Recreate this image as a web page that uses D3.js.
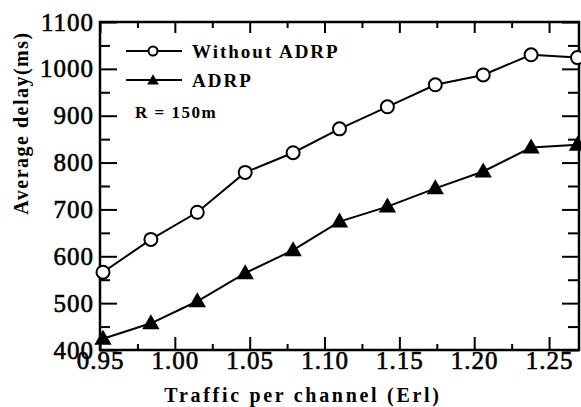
<!DOCTYPE html>
<html>
<head>
<meta charset="utf-8">
<script src="https://cdn.jsdelivr.net/npm/d3@7"></script>
<style>
  body { margin: 0; background: #fff; }
  svg { display: block; }
  text { font-family: 'Liberation Serif', serif; }
</style>
</head>
<body>
<svg></svg>
<script>
// values
var traffic = [0.952, 0.984, 1.015, 1.047, 1.079, 1.110, 1.142, 1.174, 1.206, 1.238, 1.269];
var withoutAdrp = [566, 636, 694, 779, 821, 872, 919, 966, 987, 1030, 1024];
var adrp = [424, 457, 504, 564, 613, 674, 706, 745, 781, 832, 838];
var xMajor = [0.95, 1.00, 1.05, 1.10, 1.15, 1.20, 1.25];
var xMinor = [0.975, 1.025, 1.075, 1.125, 1.175, 1.225];
var yMajor = [400, 500, 600, 700, 800, 900, 1000, 1100];
var yMinor = [450, 550, 650, 750, 850, 950, 1050];
var seriesNames = ["Without ADRP", "ADRP"];

var FONT = "'Liberation Serif', serif";
var W = 581, H = 407;
var margin = {top: 22, right: 2, bottom: 57, left: 100};
var width = W - margin.left - margin.right,
    height = H - margin.top - margin.bottom;

var svg = d3.select("svg").attr("width", W).attr("height", H);
var g = svg.append("g").attr("transform", "translate(" + margin.left + "," + margin.top + ")");

var x = d3.scaleLinear().domain([0.95, 1.27]).range([0, width]);
var y = d3.scaleLinear().domain([400, 1100]).range([height, 0]);

function styleAxis(sel) {
  sel.attr("font-family", FONT).attr("font-size", null);
  sel.select(".domain").remove();
  sel.selectAll(".tick line").attr("stroke", "#000").attr("stroke-width", 2);
  sel.selectAll(".tick text")
    .attr("fill", "#000")
    .attr("stroke", "#000").attr("stroke-width", 0.6)
    .style("font-family", FONT)
    .style("font-size", "25px")
    .style("letter-spacing", "1px");
}

// bottom
g.append("g").attr("transform", "translate(0," + height + ")")
  .call(d3.axisBottom(x).tickValues(xMajor).tickSizeInner(-13).tickSizeOuter(0)
    .tickPadding(1).tickFormat(d3.format(".2f")))
  .call(styleAxis);
g.append("g").attr("transform", "translate(0," + height + ")")
  .call(d3.axisBottom(x).tickValues(xMinor).tickSizeInner(-6).tickSizeOuter(0).tickFormat(""))
  .call(styleAxis);
// top
g.append("g")
  .call(d3.axisTop(x).tickValues(xMajor).tickSizeInner(-11).tickSizeOuter(0).tickFormat(""))
  .call(styleAxis);
g.append("g")
  .call(d3.axisTop(x).tickValues(xMinor).tickSizeInner(-6).tickSizeOuter(0).tickFormat(""))
  .call(styleAxis);
// left
g.append("g")
  .call(d3.axisLeft(y).tickValues(yMajor).tickSizeInner(-17).tickSizeOuter(0).tickPadding(6)
    .tickFormat(d3.format("d")))
  .call(styleAxis);
g.append("g")
  .call(d3.axisLeft(y).tickValues(yMinor).tickSizeInner(-10).tickSizeOuter(0).tickFormat(""))
  .call(styleAxis);
// right
g.append("g").attr("transform", "translate(" + width + ",0)")
  .call(d3.axisRight(y).tickValues(yMajor).tickSizeInner(-17).tickSizeOuter(0).tickFormat(""))
  .call(styleAxis);
g.append("g").attr("transform", "translate(" + width + ",0)")
  .call(d3.axisRight(y).tickValues(yMinor).tickSizeInner(-11).tickSizeOuter(0).tickFormat(""))
  .call(styleAxis);

// frame
g.append("rect")
  .attr("x", x(0.95)).attr("y", y(1100))
  .attr("width", x(1.27) - x(0.95)).attr("height", y(400) - y(1100))
  .attr("fill", "none").attr("stroke", "#000").attr("stroke-width", 2.5);

var line = d3.line().x(function(d) { return x(d[0]); }).y(function(d) { return y(d[1]); });
var tri = d3.symbol().type(d3.symbolTriangle);

var s1 = d3.zip(traffic, withoutAdrp);
var s2 = d3.zip(traffic, adrp);

g.append("path").datum(s1).attr("d", line)
  .attr("fill", "none").attr("stroke", "#000").attr("stroke-width", 2);
g.append("path").datum(s2).attr("d", line)
  .attr("fill", "none").attr("stroke", "#000").attr("stroke-width", 2);

g.selectAll(".c").data(s1).enter().append("circle")
  .attr("cx", function(d) { return x(d[0]); })
  .attr("cy", function(d) { return y(d[1]); })
  .attr("r", 6.5)
  .attr("fill", "#fff").attr("stroke", "#000").attr("stroke-width", 2);

g.selectAll(".t").data(s2).enter().append("path")
  .attr("d", tri.size(130))
  .attr("transform", function(d) { return "translate(" + x(d[0]) + "," + (y(d[1]) + 1) + ")"; })
  .attr("fill", "#000");

// legend
var leg = g.append("g");
var ly = [29, 58];
seriesNames.forEach(function(name, i) {
  leg.append("line").attr("x1", 26).attr("x2", 82).attr("y1", ly[i]).attr("y2", ly[i])
    .attr("stroke", "#000").attr("stroke-width", 2);
  if (i === 0) {
    leg.append("circle").attr("cx", 53).attr("cy", ly[i]).attr("r", 4.5)
      .attr("fill", "#fff").attr("stroke", "#000").attr("stroke-width", 2);
  } else {
    leg.append("path").attr("d", d3.symbol().type(d3.symbolTriangle).size(60)())
      .attr("transform", "translate(53," + (ly[i] + 1) + ")").attr("fill", "#000");
  }
  leg.append("text").attr("x", 92).attr("y", ly[i]).attr("dy", "0.35em")
    .style("font-family", FONT)
    .style("font-size", "19px").style("font-weight", "bold").style("letter-spacing", "2px")
    .text(name);
});
leg.append("text").attr("x", 35).attr("y", 96)
  .style("font-family", FONT)
  .style("font-size", "17px").style("font-weight", "bold").style("letter-spacing", "1.5px")
  .text("R = 150m");

// axis titles
svg.append("text")
  .attr("x", 303).attr("y", 402)
  .attr("text-anchor", "middle")
  .style("font-family", FONT)
  .style("font-size", "20px").style("font-weight", "bold").style("letter-spacing", "2.7px")
  .text("Traffic per channel (Erl)");

svg.append("text")
  .attr("transform", "translate(28,123) rotate(-90)")
  .attr("text-anchor", "middle")
  .style("font-family", FONT)
  .style("font-size", "20px").style("font-weight", "bold").style("letter-spacing", "1.5px")
  .text("Average delay(ms)");
</script>
</body>
</html>
